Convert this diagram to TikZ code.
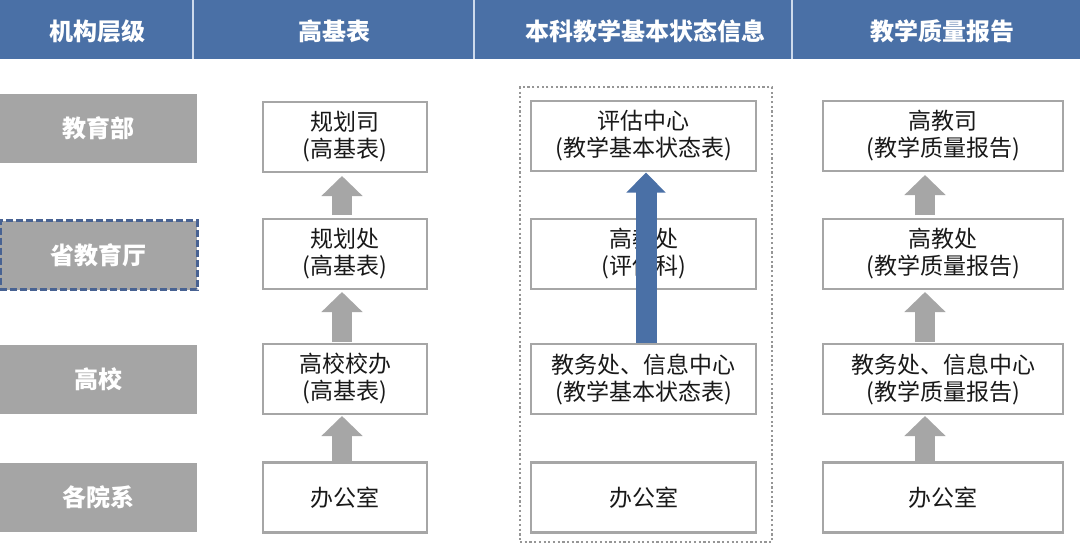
\documentclass[tikz,border=0pt]{standalone}
\usepackage{fontspec}
\setmainfont{Noto Sans CJK SC}
\usetikzlibrary{arrows.meta,calc}
\definecolor{hdrblue}{RGB}{74,112,166}
\definecolor{lvlgray}{RGB}{165,165,165}
\definecolor{boxgray}{RGB}{166,166,166}
\definecolor{dotgray}{RGB}{150,150,150}
\definecolor{dashblue}{RGB}{72,98,146}
\definecolor{txt}{RGB}{25,25,25}
\definecolor{divline}{RGB}{205,218,236}
\begin{document}
\begin{tikzpicture}[x=1pt,y=-1pt,
  hdr/.style={text=white, font=\fontsize{24}{28}\selectfont\bfseries, inner sep=0},
  lvl/.style={fill=lvlgray, minimum width=197pt, minimum height=69pt, inner sep=0, outer sep=0,
              text=white, font=\fontsize{24}{28}\selectfont\bfseries},
  ubox/.style={draw=boxgray, line width=2.7pt, fill=white, minimum height=70pt, inner sep=0, outer sep=0,
               align=center, text=txt, font=\fontsize{23}{27}\selectfont},
  wa/.style={ubox, minimum width=164pt},
  wb/.style={ubox, minimum width=225pt},
  wc/.style={ubox, minimum width=240pt},
  grp/.style={draw=dotgray, line width=2.2pt, dash pattern=on 2.2pt off 2.5pt, minimum width=252pt,
              minimum height=455pt, inner sep=0, outer sep=0},
  garrow/.style={draw=boxgray, line width=20pt, -{Triangle[width=40pt,length=20pt]}},
  barrow/.style={draw=hdrblue, line width=21pt, -{Triangle[width=38pt,length=20pt]}}
]
\useasboundingbox (0,0) rectangle (1080,547);
\fill[white] (0,0) rectangle (1080,547);

% header band
\fill[hdrblue] (0,0) rectangle (1080,59);
\draw[divline, line width=1.5pt] (193,0) -- (193,59);
\draw[divline, line width=1.5pt] (474,0) -- (474,59);
\draw[divline, line width=1.5pt] (792,0) -- (792,59);
\node[hdr] (h1) at (97,31) {机构层级};
\node[hdr] (h2) at (334,31) {高基表};
\node[hdr] (h3) at (645,31) {本科教学基本状态信息};
\node[hdr] (h4) at (942,31) {教学质量报告};

% level column
\node[lvl] (l1) at (98.5,128.5) {教育部};
\node[lvl, draw=dashblue, line width=3pt, dash pattern=on 7pt off 3pt] (l2) at (98.5,255) {省教育厅};
\node[lvl] (l3) at (98.5,379) {高校};
\node[lvl] (l4) at (98.5,497) {各院系};

% group frame around column 3
\node[grp] (g) at (646,314.5) {};

% column 2
\node[wa] (a1) at (345,137) {规划司\\(高基表)};
\node[wa] (a2) at (345,254) {规划处\\(高基表)};
\node[wa] (a3) at (345,379) {高校校办\\(高基表)};
\node[wa] (a4) at (345,497.5) {办公室};

% column 3
\node[wb] (b1) at (643.5,136) {评估中心\\(教学基本状态表)};
\node[wb] (b2) at (643.5,254) {高教处\\(评估科)};
\node[wb] (b3) at (643.5,379) {教务处、信息中心\\(教学基本状态表)};
\node[wb] (b4) at (643.5,497.5) {办公室};

% column 4
\node[wc] (c1) at (943,136) {高教司\\(教学质量报告)};
\node[wc] (c2) at (943,254) {高教处\\(教学质量报告)};
\node[wc] (c3) at (943,379) {教务处、信息中心\\(教学质量报告)};
\node[wc] (c4) at (943,497.5) {办公室};

% gray arrows, column 2
\draw[garrow] ($(a2.north)+(-3,-4)$) -- ($(a1.south)+(-3,4)$);
\draw[garrow] ($(a3.north)+(-3,-2)$) -- ($(a2.south)+(-3,3)$);
\draw[garrow] ($(a4.north)+(-3,-2)$) -- ($(a3.south)+(-3,2)$);

% gray arrows, column 4
\draw[garrow] ($(c2.north)+(-18,-4)$) -- ($(c1.south)+(-18,4)$);
\draw[garrow] ($(c3.north)+(-18,-2)$) -- ($(c2.south)+(-18,3)$);
\draw[garrow] ($(c4.north)+(-18,-2)$) -- ($(c3.south)+(-18,2)$);

% blue arrow, column 3
\draw[barrow] ($(b3.north)+(2.5,-1.5)$) -- ($(b1.south)+(2.5,1.5)$);
\end{tikzpicture}
\end{document}
